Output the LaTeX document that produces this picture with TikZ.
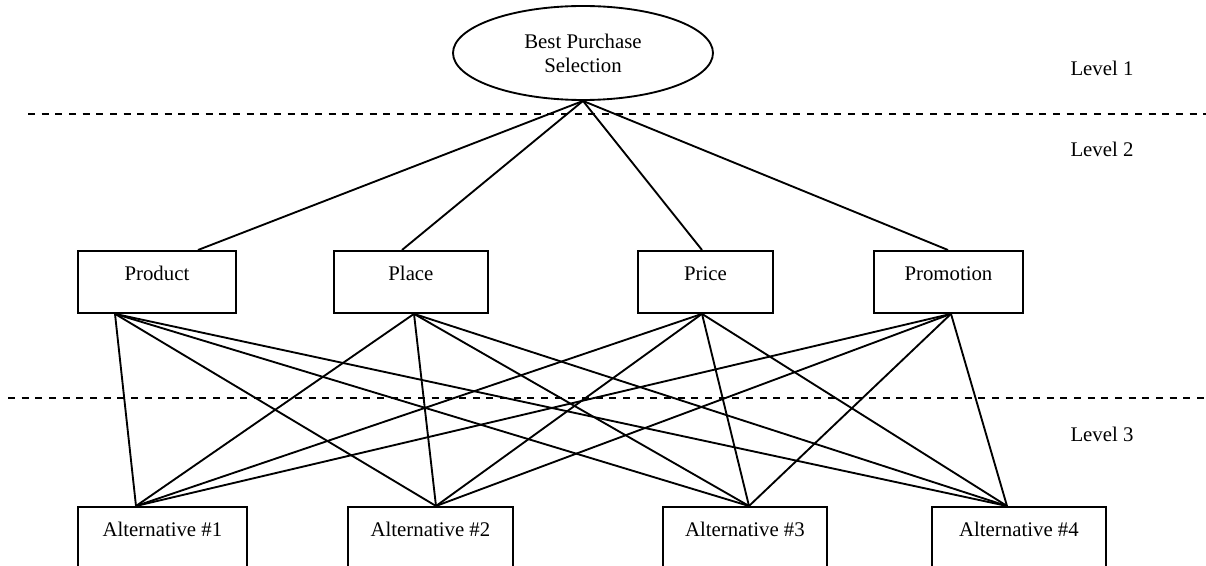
\documentclass[tikz,border=0pt]{standalone}
\usepackage{fontspec}
\setmainfont{Liberation Serif}
\usetikzlibrary{shapes.geometric,calc}
\begin{document}
\begin{tikzpicture}[x=0.75pt,y=-0.75pt,
  every node/.style={font=\fontsize{15.6}{18}\selectfont},
  link/.style={line width=1.4pt},
  sep/.style={line width=1.4pt, dash pattern=on 5.25pt off 5pt},
  crit/.style={draw, line width=1.4pt, rectangle, anchor=north west, inner sep=0pt,
    text height=22.5pt, text depth=24pt, minimum width=#1},
  alt/.style={draw, line width=1.4pt, rectangle, anchor=north west, inner sep=0pt,
    text height=22.5pt, text depth=45pt, minimum width=#1},
  lev/.style={anchor=base}]
\useasboundingbox (0,0) rectangle (1206,566);
\clip (0,0) rectangle (1206,566);

% goal
\node[draw, ellipse, line width=1.4pt, minimum width=195pt, minimum height=70.5pt,
  inner sep=0pt, align=center] (goal) at (583,53) {Best Purchase\\Selection};

% separators
\draw[sep] (28,114) -- (1206,114);
\draw[sep] (8,398) -- (1206,398);

% level labels
\node[lev] (l1) at (1102,76) {Level 1};
\node[lev] (l2) at (1102,157) {Level 2};
\node[lev] (l3) at (1102,441) {Level 3};

% criteria
\node[crit=118.5pt] (prod) at (77,250) {Product};
\node[crit=115.5pt] (plac) at (333,250) {Place};
\node[crit=101.25pt] (pric) at (637,250) {Price};
\node[crit=111.75pt] (prom) at (873,250) {Promotion};

% alternatives
\node[alt=126.75pt] (a1) at (77,506) {Alternative \#1};
\node[alt=123.75pt] (a2) at (347,506) {Alternative \#2};
\node[alt=123pt] (a3) at (662,506) {Alternative \#3};
\node[alt=130.5pt] (a4) at (931,506) {Alternative \#4};

% attachment points
\coordinate (prodT) at ($(prod.north west)+(121,0)$);
\coordinate (placT) at ($(plac.north west)+(69,0)$);
\coordinate (pricT) at ($(pric.north west)+(65,0)$);
\coordinate (promT) at ($(prom.north west)+(75,0)$);
\coordinate (prodB) at ($(prod.south west)+(38,0)$);
\coordinate (placB) at ($(plac.south west)+(81,0)$);
\coordinate (pricB) at ($(pric.south west)+(65,0)$);
\coordinate (promB) at ($(prom.south west)+(78,0)$);
\coordinate (a1T) at ($(a1.north west)+(59,0)$);
\coordinate (a2T) at ($(a2.north west)+(89,0)$);
\coordinate (a3T) at ($(a3.north west)+(87,0)$);
\coordinate (a4T) at ($(a4.north west)+(76,0)$);

% goal to criteria
\foreach \c in {prodT,placT,pricT,promT}
  \draw[link] (goal.south) -- (\c);

% criteria to alternatives
\foreach \c in {prodB,placB,pricB,promB}
  \foreach \a in {a1T,a2T,a3T,a4T}
    \draw[link] (\c) -- (\a);
\end{tikzpicture}
\end{document}
